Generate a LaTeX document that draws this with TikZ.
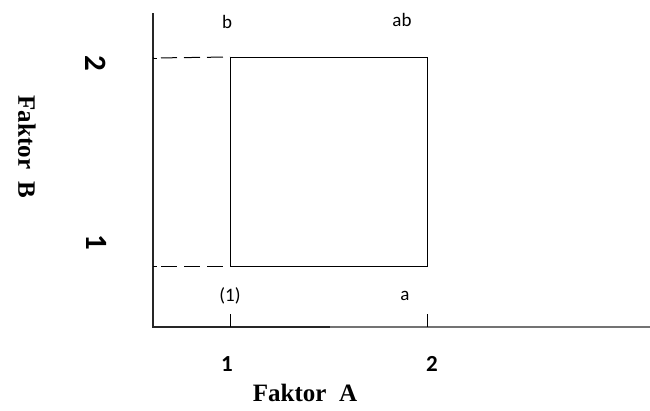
\documentclass[tikz,border=0pt]{standalone}
\usepackage{fontspec}
\setmainfont{Liberation Serif}
\newfontfamily\lblfont{Carlito}
\begin{document}
\begin{tikzpicture}[x=1pt,y=-1pt,
  axis/.style={line width=1.8pt},
  boxline/.style={line width=1pt},
  dash line/.style={line width=1pt, dash pattern=on 16pt off 7pt, dash phase=-8pt},
  corner/.style={font=\lblfont\fontsize{19}{22}\selectfont, inner sep=0pt},
  ticklbl/.style={font=\lblfont\bfseries\fontsize{23}{26}\selectfont, inner sep=0pt},
  yticklbl/.style={font=\lblfont\bfseries\fontsize{31}{34}\selectfont, inner sep=0pt, rotate=-90},
  axlbl/.style={font=\bfseries\fontsize{25}{29}\selectfont, inner sep=0pt}]
\useasboundingbox (0,0) rectangle (650,410);
% axes
\coordinate (O) at (153,327);
\coordinate (Ytop) at (153,13);
\coordinate (Xmid) at (330,327);
\coordinate (Xend) at (650,327);
\draw[axis, black!85] (Ytop) -- (O) -- (Xmid);
\draw[axis, black!55] (Xmid) -- (Xend);
% ticks
\coordinate (t1) at (230,314); \coordinate (t1b) at (230,327);
\coordinate (t2) at (427,314); \coordinate (t2b) at (427,327);
\draw[line width=1pt] (t1) -- (t1b);
\draw[line width=1pt] (t2) -- (t2b);
\coordinate (y2) at (153,58);  \coordinate (y2r) at (157,58);
\coordinate (y1) at (153,266); \coordinate (y1r) at (157,266);
\draw[line width=1pt] (y2) -- (y2r);
\draw[line width=1pt] (y1) -- (y1r);
% square
\coordinate (p1) at (230,266);
\coordinate (pa) at (427,266);
\coordinate (pab) at (427,57);
\coordinate (pb) at (230,57);
\draw[boxline] (p1) -- (pa) -- (pab) -- (pb) -- cycle;
% dashed
\draw[dash line] (y2) -- (pb);
\draw[dash line] (y1) -- (p1);
% corner labels
\node[corner] (lb) at (227,22) {b};
\node[corner] (lab) at (402,20) {ab};
\node[corner] (l1) at (230,296) {(1)};
\node[corner] (la) at (405,296) {a};
% tick labels
\node[ticklbl] (x1) at (227,364) {1};
\node[ticklbl] (x2) at (432,364) {2};
\node[yticklbl] (yl2) at (96,63) {2};
\node[yticklbl] (yl1) at (97,242) {1};
% axis labels
\node[axlbl, anchor=base] (fa) at (305,401) {Faktor\ \ A};
\node[axlbl, rotate=-90] (fb) at (27,147) {Faktor\ \ B};
\end{tikzpicture}
\end{document}
